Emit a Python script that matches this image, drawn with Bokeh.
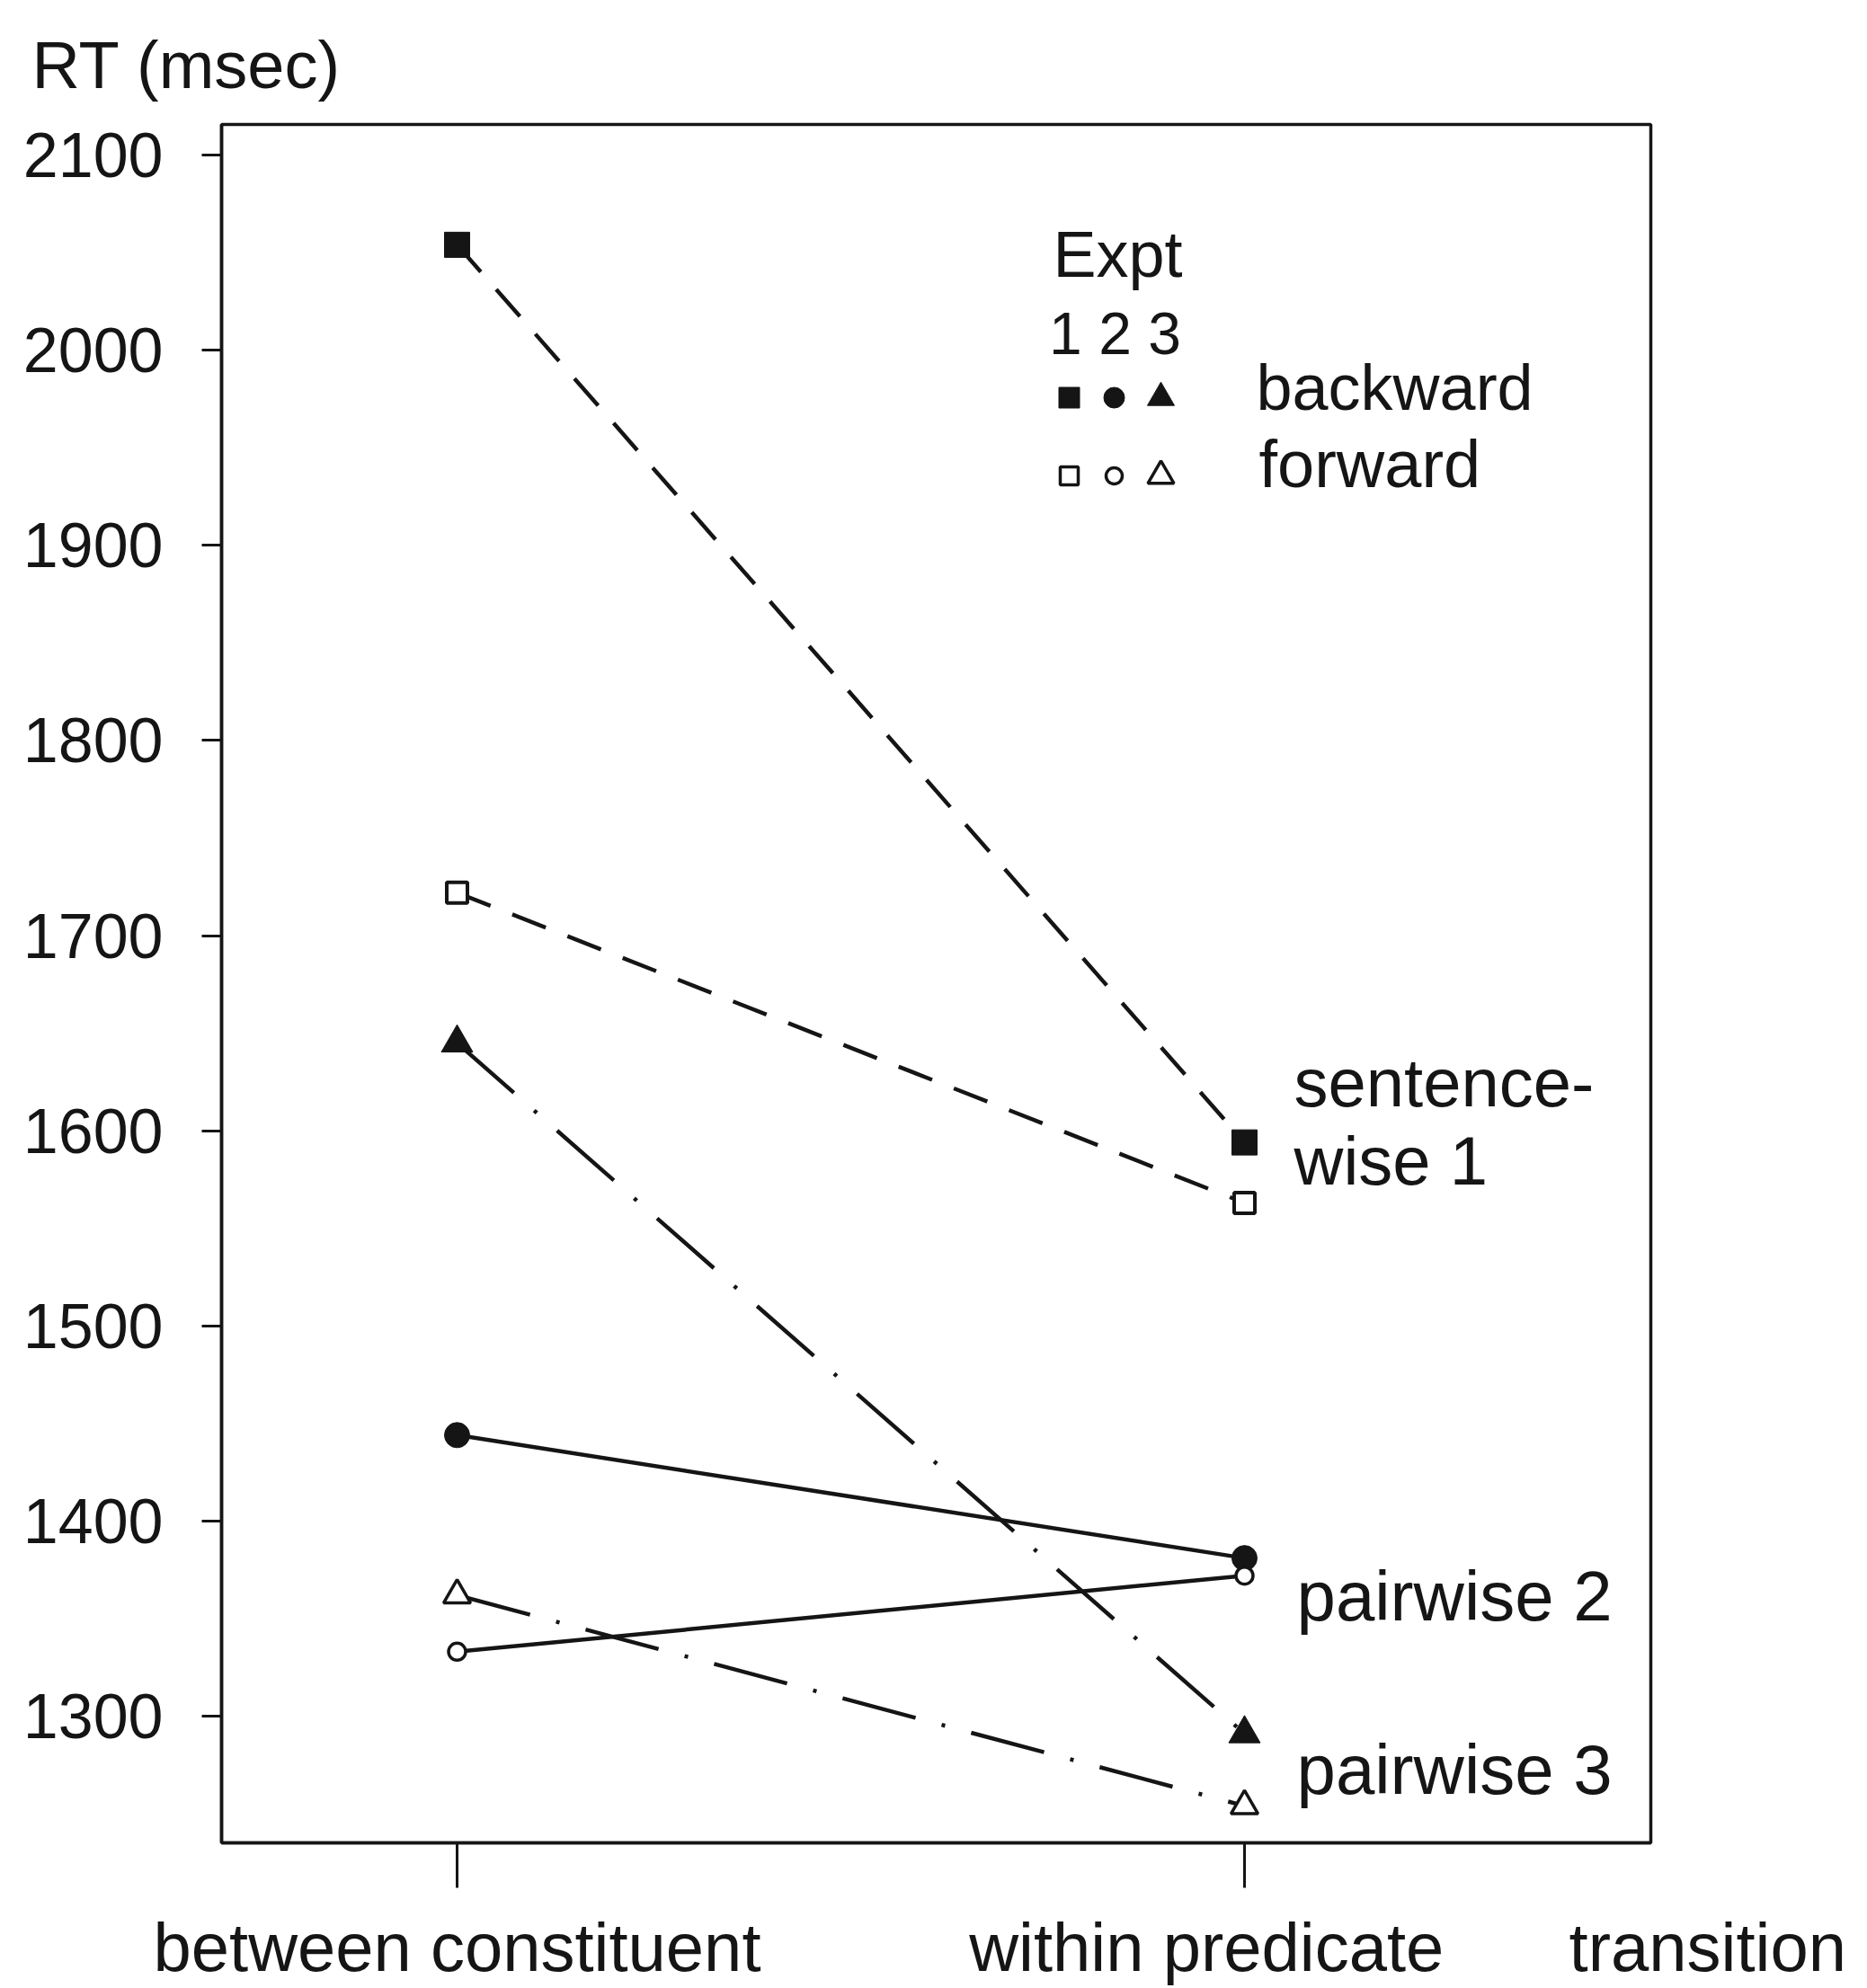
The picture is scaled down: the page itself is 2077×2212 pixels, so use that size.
from bokeh.plotting import figure
from bokeh.models import FixedTicker, Label, Range1d, LinearAxis
from bokeh.embed import file_html
from bokeh.resources import INLINE

# ---------------- data ----------------
conditions = ["between constituent", "within predicate"]
cond_pos = [1, 2]
y_ticks = [1300, 1400, 1500, 1600, 1700, 1800, 1900, 2000, 2100]

rt_expt1_backward = [2054, 1594]
rt_expt1_forward = [1722, 1563]
rt_expt2_backward = [1444, 1381]
rt_expt2_forward = [1333, 1372]
rt_expt3_backward = [1645, 1291]
rt_expt3_forward = [1362, 1254]

y_title = "RT (msec)"
x_title = "transition"
legend_title = "Expt"
legend_numbers = "1 2 3"
direction_labels = ["backward", "forward"]
expt_labels = ["sentence-", "wise 1", "pairwise 2", "pairwise 3"]

# ---------------- layout / style ----------------
INK = "#151515"
FONT = "Liberation Sans"
NBSP = "\u00a0"

FIG_W, FIG_H = 2077, 2212
FL, FR, FT, FB = 246, 1836, 138, 2050
X0, X1 = 0.7009, 2.516
Y0, Y1 = 1235.06, 2115.66


def dx(px):
    return X0 + (px - FL) / (FR - FL) * (X1 - X0)


def dy(py):
    return Y1 - (py - FT) / (FB - FT) * (Y1 - Y0)


p = figure(width=FIG_W, height=FIG_H,
           x_range=Range1d(X0, X1), y_range=Range1d(Y0, Y1),
           output_backend="svg", toolbar_location=None,
           min_border_left=FL, min_border_right=FIG_W - FR,
           min_border_top=FT, min_border_bottom=FIG_H - FB)
p.grid.visible = False
p.outline_line_color = INK
p.outline_line_width = 3.5
p.outline_line_alpha = 1.0
p.background_fill_color = "white"
p.border_fill_color = "white"

# y-axis title drawn as the plot title, shifted over the tick labels
p.title.text = y_title
p.title.align = "left"
p.title.offset = 35 - FL
p.title.vertical_align = "bottom"
p.title.standoff = 50
p.title.text_font = FONT
p.title.text_font_size = "74px"
p.title.text_font_style = "normal"
p.title.text_color = INK

# x-axis: tick marks only (nearest the frame)
xa = p.xaxis[0]
xa.ticker = FixedTicker(ticks=cond_pos)
xa.major_label_overrides = {pos: "" for pos in cond_pos}
xa.major_label_text_font_size = "0px"
xa.major_label_standoff = 0
xa.major_tick_out = 50
xa.major_tick_in = 0
xa.minor_tick_out = 0
xa.minor_tick_in = 0
xa.major_tick_line_width = 3
xa.major_tick_line_color = INK
xa.axis_line_width = 3.5
xa.axis_line_color = INK

# x-axis: category labels row, plus the axis title at the right end
t_pos = X1 - 1e-4
xb = LinearAxis(ticker=FixedTicker(ticks=cond_pos + [t_pos]))
overrides = {cond_pos[0]: conditions[0],
             cond_pos[1]: conditions[1] + NBSP * 4,
             t_pos: NBSP * 6 + x_title}
xb.major_label_overrides = overrides
xb.axis_line_color = None
xb.major_tick_out = 0
xb.major_tick_in = 0
xb.minor_tick_out = 0
xb.minor_tick_in = 0
xb.major_label_standoff = 23
xb.major_label_text_font = FONT
xb.major_label_text_font_size = "76px"
xb.major_label_text_color = INK
p.add_layout(xb, "below")

ya = p.yaxis[0]
ya.ticker = FixedTicker(ticks=y_ticks)
ya.major_tick_out = 22
ya.major_tick_in = 0
ya.minor_tick_out = 0
ya.minor_tick_in = 0
ya.major_tick_line_width = 3
ya.major_tick_line_color = INK
ya.axis_line_width = 3.5
ya.axis_line_color = INK
ya.major_label_text_font = FONT
ya.major_label_text_font_size = "70px"
ya.major_label_text_color = INK
ya.major_label_standoff = 43

# ---------------- series lines ----------------
DASH = "40 26"
DASHDOT = "84 30 4 30"
LW = 4.5

p.line(cond_pos, rt_expt1_backward, line_color=INK, line_width=LW, line_dash=DASH)
p.line(cond_pos, rt_expt1_forward, line_color=INK, line_width=LW, line_dash=DASH)
p.line(cond_pos, rt_expt2_backward, line_color=INK, line_width=LW)
p.line(cond_pos, rt_expt2_forward, line_color=INK, line_width=LW)
p.line(cond_pos, rt_expt3_backward, line_color=INK, line_width=LW, line_dash=DASHDOT)
p.line(cond_pos, rt_expt3_forward, line_color=INK, line_width=LW, line_dash=DASHDOT)

# ---------------- series markers ----------------
p.scatter(cond_pos, rt_expt1_backward, marker="square", size=28,
          fill_color=INK, line_color=INK, line_width=1)
p.scatter(cond_pos, rt_expt1_forward, marker="square", size=23,
          fill_color="white", line_color=INK, line_width=4)
p.scatter(cond_pos, rt_expt2_backward, marker="circle", size=28,
          fill_color=INK, line_color=INK, line_width=1)
p.scatter(cond_pos, rt_expt2_forward, marker="circle", size=19,
          fill_color="white", line_color=INK, line_width=3.5)
p.scatter(cond_pos, rt_expt3_backward, marker="triangle", size=35,
          fill_color=INK, line_color=INK, line_width=1)
p.scatter(cond_pos, rt_expt3_forward, marker="triangle", size=30,
          fill_color="white", line_color=INK, line_width=3.5)

# ---------------- legend (drawn) ----------------
LEG_COLS = [1189, 1239, 1291]
LEG_ROWS = [442, 529]
leg_markers = ["square", "circle", "triangle"]
leg_sizes_filled = [23, 23, 30]
leg_sizes_open = [20, 18, 29]
for col, mk, sf, so in zip(LEG_COLS, leg_markers, leg_sizes_filled, leg_sizes_open):
    p.scatter([dx(col)], [dy(LEG_ROWS[0])], marker=mk, size=sf,
              fill_color=INK, line_color=INK, line_width=1)
    p.scatter([dx(col)], [dy(LEG_ROWS[1])], marker=mk, size=so,
              fill_color="white", line_color=INK, line_width=3.5)


def add_text(text, px, py, size="76px", align="left"):
    p.add_layout(Label(x=dx(px), y=dy(py), text=text, text_font=FONT,
                       text_font_size=size, text_color=INK, text_align=align,
                       text_baseline="middle"))


add_text(legend_title, 1171, 282, size="72px")
add_text(legend_numbers, 1240, 370, size="66px", align="center")
add_text(direction_labels[0], 1397, 430, size="72px")
add_text(direction_labels[1], 1400, 516, size="74px")
add_text(expt_labels[0], 1439, 1204, size="76px")
add_text(expt_labels[1], 1439, 1291, size="76px")
add_text(expt_labels[2], 1442, 1775, size="78px")
add_text(expt_labels[3], 1442, 1968, size="78px")

open("out.html", "w").write(file_html(p, INLINE))
